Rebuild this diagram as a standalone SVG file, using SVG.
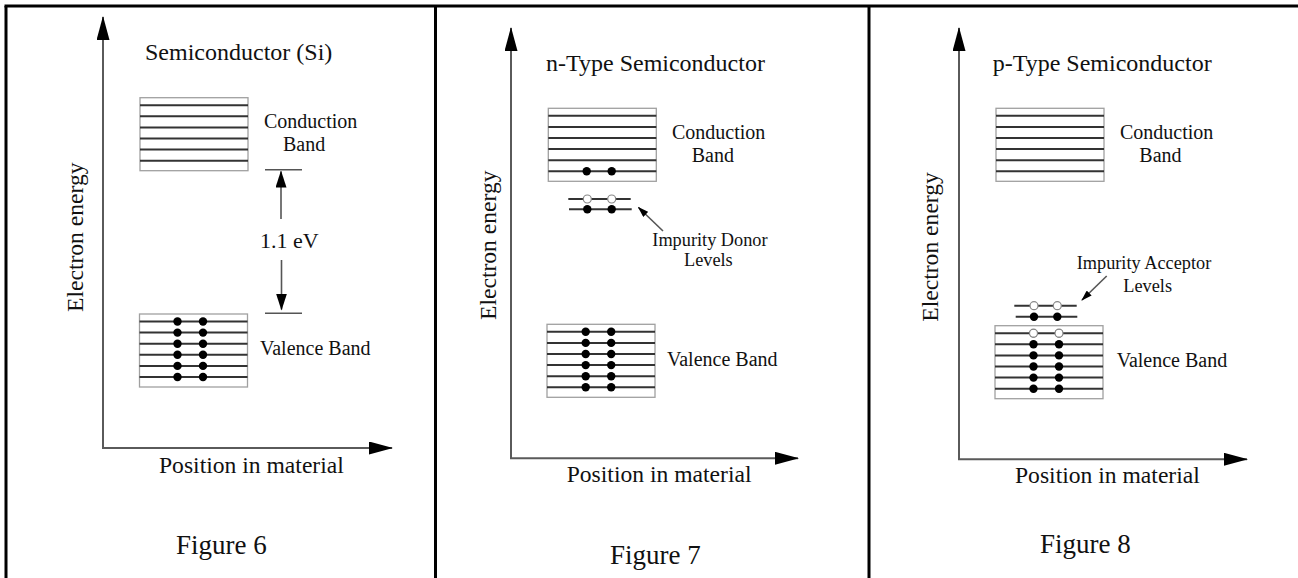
<svg xmlns="http://www.w3.org/2000/svg" width="1298" height="578" viewBox="0 0 1298 578">
<style>
text{font-family:"Liberation Serif","Times New Roman",serif;fill:#111}
.t{font-size:24px}
.l{font-size:20px}
.s{font-size:18.3px}
.ax{font-size:23.6px}
.fig{font-size:27px}
.axis{stroke:#5a5a5a;stroke-width:2;fill:none}
.frame{stroke:#000;stroke-width:3;fill:none}
.band rect{fill:#fff;stroke:#a0a0a0;stroke-width:1.3}
.band line{stroke:#333;stroke-width:2}
.lev{stroke:#333;stroke-width:2}
.gap{stroke:#555;stroke-width:1.6}
.dot{fill:#000}
.hole{fill:#fff;stroke:#888;stroke-width:1.2}
</style>
<defs>
<marker id="ah" viewBox="0 0 24 13" markerWidth="24" markerHeight="13" refX="23" refY="6.5" orient="auto" markerUnits="userSpaceOnUse"><path d="M0,0 L24,6.5 L0,13 z" fill="#000"/></marker>
<marker id="ag" viewBox="0 0 17 11" markerWidth="17" markerHeight="11" refX="16" refY="5.5" orient="auto" markerUnits="userSpaceOnUse"><path d="M0,0 L17,5.5 L0,11 z" fill="#000"/></marker>
<marker id="as" viewBox="0 0 11 7" markerWidth="11" markerHeight="7" refX="10" refY="3.5" orient="auto" markerUnits="userSpaceOnUse"><path d="M0,0 L11,3.5 L0,7 z" fill="#000"/></marker>
<g id="band" class="band">
<rect x="0" y="0" width="108" height="73"/>
<line x1="0" y1="7.5" x2="108" y2="7.5"/>
<line x1="0" y1="18.6" x2="108" y2="18.6"/>
<line x1="0" y1="29.7" x2="108" y2="29.7"/>
<line x1="0" y1="40.8" x2="108" y2="40.8"/>
<line x1="0" y1="51.9" x2="108" y2="51.9"/>
<line x1="0" y1="63" x2="108" y2="63"/>
</g>
<g id="fdots">
<circle class="dot" cx="0" cy="7.5" r="4.2"/><circle class="dot" cx="25.5" cy="7.5" r="4.2"/>
<circle class="dot" cx="0" cy="18.6" r="4.2"/><circle class="dot" cx="25.5" cy="18.6" r="4.2"/>
<circle class="dot" cx="0" cy="29.7" r="4.2"/><circle class="dot" cx="25.5" cy="29.7" r="4.2"/>
<circle class="dot" cx="0" cy="40.8" r="4.2"/><circle class="dot" cx="25.5" cy="40.8" r="4.2"/>
<circle class="dot" cx="0" cy="51.9" r="4.2"/><circle class="dot" cx="25.5" cy="51.9" r="4.2"/>
<circle class="dot" cx="0" cy="63" r="4.2"/><circle class="dot" cx="25.5" cy="63" r="4.2"/>
</g>
</defs>

<g id="frame">
<line class="frame" x1="4.5" y1="6" x2="1298" y2="6"/>
<line class="frame" x1="6" y1="6" x2="6" y2="578"/>
<line class="frame" x1="435.5" y1="6" x2="435.5" y2="578"/>
<line class="frame" x1="869" y1="6" x2="869" y2="578"/>
</g>

<g id="connectors">
<line class="axis" x1="103" y1="448" x2="103" y2="17" marker-end="url(#ah)"/>
<line class="axis" x1="102" y1="448" x2="392" y2="448" marker-end="url(#ah)"/>
<line class="gap" x1="281" y1="219" x2="281" y2="171.5" marker-end="url(#ag)"/>
<line class="gap" x1="281.5" y1="260" x2="281.5" y2="309.5" marker-end="url(#ag)"/>
<line class="axis" x1="511" y1="458.3" x2="511" y2="28" marker-end="url(#ah)"/>
<line class="axis" x1="510" y1="458.3" x2="798" y2="458.3" marker-end="url(#ah)"/>
<line class="gap" x1="663" y1="231" x2="638.5" y2="207.5" marker-end="url(#as)"/>
<line class="axis" x1="959" y1="459.3" x2="959" y2="28" marker-end="url(#ah)"/>
<line class="axis" x1="958" y1="459.3" x2="1247" y2="459.3" marker-end="url(#ah)"/>
<line class="gap" x1="1106.7" y1="276" x2="1082" y2="300" marker-end="url(#as)"/>
</g>

<g id="fig6">
<text class="t" x="145" y="59.5">Semiconductor (Si)</text>
<g id="fig6-conduction"><use href="#band" x="140" y="97.7"/></g>
<text class="l" x="264" y="128.3">Conduction</text>
<text class="l" x="283" y="150.7">Band</text>
<g id="fig6-gap">
<line class="gap" x1="265" y1="169.7" x2="302" y2="169.7"/>
<line class="gap" x1="265" y1="313.3" x2="302" y2="313.3"/>
<text style="font-size:22px" x="260" y="248">1.1 eV</text>
</g>
<g id="fig6-valence"><use href="#band" x="139.5" y="314"/><use href="#fdots" x="177.5" y="314"/></g>
<text class="l" x="260" y="355">Valence Band</text>
<text class="ax" transform="translate(83,312) rotate(-90)">Electron energy</text>
<text class="ax" x="159" y="472.7">Position in material</text>
<text class="fig" x="176" y="554">Figure 6</text>
</g>

<g id="fig7">
<text class="t" x="546" y="70.7">n-Type Semiconductor</text>
<g id="fig7-conduction"><use href="#band" x="548.3" y="108.3"/>
<circle class="dot" cx="586.7" cy="171.3" r="4.2"/><circle class="dot" cx="611.7" cy="171.3" r="4.2"/></g>
<text class="l" x="672" y="139.3">Conduction</text>
<text class="l" x="691.7" y="161.7">Band</text>
<g id="fig7-donor">
<line class="lev" x1="568.3" y1="199" x2="630.7" y2="199"/>
<line class="lev" x1="569" y1="209.3" x2="631.7" y2="209.3"/>
<circle class="hole" cx="587.3" cy="199" r="4"/><circle class="hole" cx="611.7" cy="199" r="4"/>
<circle class="dot" cx="587.3" cy="209.3" r="4.2"/><circle class="dot" cx="611.7" cy="209.3" r="4.2"/>
</g>
<text class="s" x="652.3" y="246">Impurity Donor</text>
<text class="s" x="684" y="266">Levels</text>
<g id="fig7-valence"><use href="#band" x="547" y="324.3"/><use href="#fdots" x="585.7" y="324.3"/></g>
<text class="l" x="667" y="366">Valence Band</text>
<text class="ax" transform="translate(496,320) rotate(-90)">Electron energy</text>
<text class="ax" x="566.7" y="481.7">Position in material</text>
<text class="fig" x="610" y="564.3">Figure 7</text>
</g>

<g id="fig8">
<text class="t" x="992.7" y="70.7">p-Type Semiconductor</text>
<g id="fig8-conduction"><use href="#band" x="996" y="108.3"/></g>
<text class="l" x="1120" y="139.3">Conduction</text>
<text class="l" x="1139.3" y="161.7">Band</text>
<g id="fig8-acceptor">
<line class="lev" x1="1014.3" y1="305.7" x2="1076.7" y2="305.7"/>
<line class="lev" x1="1015.7" y1="316.7" x2="1077.3" y2="316.7"/>
<circle class="hole" cx="1034" cy="305.7" r="4"/><circle class="hole" cx="1057.3" cy="305.7" r="4"/>
<circle class="dot" cx="1034" cy="316.7" r="4.2"/><circle class="dot" cx="1057.3" cy="316.7" r="4.2"/>
</g>
<text class="s" x="1076.7" y="269">Impurity Acceptor</text>
<text class="s" x="1123.3" y="291.7">Levels</text>
<g id="fig8-valence"><use href="#band" x="995" y="325.7"/><use href="#fdots" x="1033.5" y="325.7"/>
<circle class="hole" cx="1033.5" cy="333.2" r="4"/><circle class="hole" cx="1059" cy="333.2" r="4"/></g>
<text class="l" x="1116.7" y="367.3">Valence Band</text>
<text class="ax" transform="translate(938,321.7) rotate(-90)">Electron energy</text>
<text class="ax" x="1015" y="483.3">Position in material</text>
<text class="fig" x="1040" y="552.7">Figure 8</text>
</g>
</svg>
